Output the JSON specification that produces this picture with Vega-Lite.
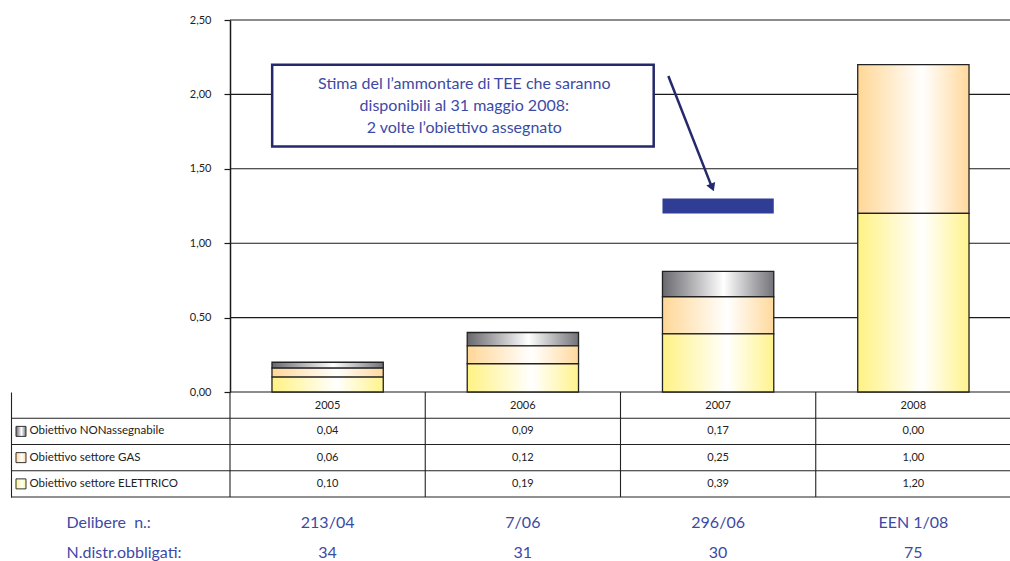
{
  "$schema": "https://vega.github.io/schema/vega-lite/v6.json",
  "background": "white",
  "padding": {"left": 10, "top": 14, "right": 0, "bottom": 0},
  "spacing": 0,
  "bounds": "flush",
  "config": {
    "font": "Lato",
    "view": {"stroke": null},
    "locale": {"number": {"decimal": ",", "thousands": ".", "grouping": [3], "currency": ["", " €"]}}
  },
  "datasets": {
    "obiettivi": [
      {"anno": "2005", "key": "NON", "serie": "Obiettivo NONassegnabile", "valore": 0.04},
      {"anno": "2005", "key": "GAS", "serie": "Obiettivo settore GAS", "valore": 0.06},
      {"anno": "2005", "key": "ELE", "serie": "Obiettivo settore ELETTRICO", "valore": 0.10},
      {"anno": "2006", "key": "NON", "serie": "Obiettivo NONassegnabile", "valore": 0.09},
      {"anno": "2006", "key": "GAS", "serie": "Obiettivo settore GAS", "valore": 0.12},
      {"anno": "2006", "key": "ELE", "serie": "Obiettivo settore ELETTRICO", "valore": 0.19},
      {"anno": "2007", "key": "NON", "serie": "Obiettivo NONassegnabile", "valore": 0.17},
      {"anno": "2007", "key": "GAS", "serie": "Obiettivo settore GAS", "valore": 0.25},
      {"anno": "2007", "key": "ELE", "serie": "Obiettivo settore ELETTRICO", "valore": 0.39},
      {"anno": "2008", "key": "NON", "serie": "Obiettivo NONassegnabile", "valore": 0.00},
      {"anno": "2008", "key": "GAS", "serie": "Obiettivo settore GAS", "valore": 1.00},
      {"anno": "2008", "key": "ELE", "serie": "Obiettivo settore ELETTRICO", "valore": 1.20}
    ],
    "righe": [
      {"key": "NON", "serie": "Obiettivo NONassegnabile"},
      {"key": "GAS", "serie": "Obiettivo settore GAS"},
      {"key": "ELE", "serie": "Obiettivo settore ELETTRICO"}
    ],
    "anni": [{"anno": "2005"}, {"anno": "2006"}, {"anno": "2007"}, {"anno": "2008"}],
    "griglia": [{"v": 0}, {"v": 0.5}, {"v": 1}, {"v": 1.5}, {"v": 2}, {"v": 2.5}],
    "stima": [{"anno": "2007", "da": 1.2, "a": 1.3}],
    "delibere": [
      {"anno": "2005", "riga": "Delibere\u00a0 n.:", "testo": "213/04"},
      {"anno": "2006", "riga": "Delibere\u00a0 n.:", "testo": "7/06"},
      {"anno": "2007", "riga": "Delibere\u00a0 n.:", "testo": "296/06"},
      {"anno": "2008", "riga": "Delibere\u00a0 n.:", "testo": "EEN 1/08"},
      {"anno": "2005", "riga": "N.distr.obbligati:", "testo": "34"},
      {"anno": "2006", "riga": "N.distr.obbligati:", "testo": "31"},
      {"anno": "2007", "riga": "N.distr.obbligati:", "testo": "30"},
      {"anno": "2008", "riga": "N.distr.obbligati:", "testo": "75"}
    ]
  },
  "vconcat": [
    {
      "width": 1000,
      "height": 372,
      "layer": [
        {
          "data": {"name": "griglia"},
          "mark": {"type": "rule", "color": "#1a1a1a", "strokeWidth": 1.1},
          "encoding": {
            "y": {
              "field": "v", "type": "quantitative",
              "scale": {"domain": [0, 2.5], "nice": false, "zero": true},
              "axis": {
                "offset": -219, "values": [0, 0.5, 1, 1.5, 2, 2.5], "format": ".2f", "grid": false,
                "title": null, "domainColor": "#1a1a1a", "domainWidth": 1.5, "tickColor": "#1a1a1a",
                "tickSize": 6, "tickWidth": 1.2, "labelPadding": 13, "labelFontSize": 11, "labelColor": "#222"
              }
            },
            "x": {"datum": "2005", "type": "nominal", "bandPosition": 0,
                  "scale": {"type": "band", "domain": ["2005", "2006", "2007", "2008"], "paddingInner": 0, "paddingOuter": 0.5608, "align": 1},
                  "axis": null},
            "x2": {"value": "width"}
          }
        },
        {
          "data": {"name": "obiettivi"},
          "mark": {"type": "bar", "stroke": "#222", "strokeWidth": 1.3, "width": {"band": 0.57}},
          "encoding": {
            "x": {"field": "anno", "type": "nominal"},
            "y": {"field": "valore", "type": "quantitative", "stack": "zero"},
            "detail": {"field": "key"},
            "order": {"field": "key", "sort": "ascending"},
            "fill": {
              "condition": [
                {"test": "datum.key === 'ELE'", "value": {"gradient": "linear", "x1": 0, "y1": 0, "x2": 1, "y2": 0, "stops": [{"offset": 0, "color": "#fff283"}, {"offset": 0.58, "color": "#ffffff"}, {"offset": 1, "color": "#fff38c"}]}},
                {"test": "datum.key === 'GAS'", "value": {"gradient": "linear", "x1": 0, "y1": 0, "x2": 1, "y2": 0, "stops": [{"offset": 0, "color": "#ffd796"}, {"offset": 0.58, "color": "#ffffff"}, {"offset": 1, "color": "#ffd99c"}]}}
              ],
              "value": {"gradient": "linear", "x1": 0, "y1": 0, "x2": 1, "y2": 0, "stops": [{"offset": 0, "color": "#68686e"}, {"offset": 0.55, "color": "#ffffff"}, {"offset": 1, "color": "#727278"}]}
            }
          }
        },
        {
          "data": {"name": "stima"},
          "mark": {"type": "bar", "color": "#2f3d95", "width": {"band": 0.57}},
          "encoding": {
            "x": {"field": "anno", "type": "nominal"},
            "y": {"field": "da", "type": "quantitative"},
            "y2": {"field": "a"}
          }
        },
        {
          "data": {"values": [{}]},
          "mark": {"type": "rect", "fill": "white", "stroke": "#25286a", "strokeWidth": 2.5},
          "encoding": {
            "x": {"datum": "2005", "type": "nominal", "bandPosition": 0.216},
            "x2": {"datum": "2007", "bandPosition": 0.17},
            "y": {"datum": 2.2, "type": "quantitative"},
            "y2": {"datum": 1.65}
          }
        },
        {
          "data": {"values": [{}]},
          "mark": {"type": "text", "color": "#3d4aa5", "fontSize": 16, "lineHeight": 22, "align": "center", "baseline": "middle"},
          "encoding": {
            "x": {"datum": "2006", "type": "nominal", "bandPosition": 0.2},
            "y": {"datum": 2.068, "type": "quantitative"},
            "text": {"value": ["Stima del l’ammontare di TEE che saranno", "disponibili al 31 maggio 2008:", "2 volte l’obiettivo assegnato"]}
          }
        },
        {
          "data": {"values": [{}]},
          "mark": {"type": "rule", "color": "#25286a", "strokeWidth": 2.5},
          "encoding": {
            "x": {"datum": "2007", "type": "nominal", "bandPosition": 0.245},
            "x2": {"datum": "2007", "bandPosition": 0.47},
            "y": {"datum": 2.124, "type": "quantitative"},
            "y2": {"datum": 1.37}
          }
        },
        {
          "data": {"values": [{}]},
          "mark": {"type": "point", "shape": "triangle-down", "filled": true, "color": "#25286a", "opacity": 1, "size": 90, "angle": -22},
          "encoding": {
            "x": {"datum": "2007", "type": "nominal", "bandPosition": 0.47},
            "y": {"datum": 1.374, "type": "quantitative"}
          }
        }
      ]
    },
    {
      "width": 1000,
      "height": 105,
      "layer": [
        {
          "data": {"name": "righe"},
          "mark": {"type": "rule", "color": "#222", "strokeWidth": 1.1},
          "encoding": {
            "y": {
              "field": "serie", "type": "nominal", "bandPosition": 0,
              "scale": {"type": "band", "domain": ["anno", "Obiettivo NONassegnabile", "Obiettivo settore GAS", "Obiettivo settore ELETTRICO"], "paddingInner": 0, "paddingOuter": 0},
              "axis": {
                "title": null, "orient": "left", "ticks": false, "tickSize": 0, "domain": true, "domainColor": "#222", "domainWidth": 1.1,
                "labelAlign": "left", "labelPadding": -18, "labelFontSize": 11.5, "labelColor": "#222", "grid": false,
                "labelExpr": "datum.value === 'anno' ? '' : datum.value"
              }
            }
          }
        },
        {
          "data": {"values": [{}]},
          "mark": {"type": "rule", "color": "#222", "strokeWidth": 1.1},
          "encoding": {
            "y": {"datum": "Obiettivo settore ELETTRICO", "type": "nominal", "bandPosition": 1}
          }
        },
        {
          "data": {"name": "anni"},
          "mark": {"type": "rule", "color": "#222", "strokeWidth": 1.1},
          "encoding": {
            "x": {"field": "anno", "type": "nominal", "bandPosition": 0,
                  "scale": {"type": "band", "domain": ["2005", "2006", "2007", "2008"], "paddingInner": 0, "paddingOuter": 0.5608, "align": 1},
                  "axis": null}
          }
        },
        {
          "data": {"name": "anni"},
          "mark": {"type": "text", "fontSize": 11, "color": "#222", "dy": 1},
          "encoding": {
            "x": {"field": "anno", "type": "nominal"},
            "y": {"datum": "anno", "type": "nominal"},
            "text": {"field": "anno"}
          }
        },
        {
          "data": {"name": "obiettivi"},
          "mark": {"type": "text", "fontSize": 11, "color": "#222"},
          "encoding": {
            "x": {"field": "anno", "type": "nominal"},
            "y": {"field": "serie", "type": "nominal"},
            "text": {"field": "valore", "type": "quantitative", "format": ".2f"}
          }
        },
        {
          "data": {"name": "righe"},
          "mark": {"type": "square", "size": 100, "stroke": "#333", "strokeWidth": 1, "opacity": 1, "xOffset": -209},
          "encoding": {
            "x": {"datum": "2005", "type": "nominal", "bandPosition": 0},
            "y": {"field": "serie", "type": "nominal"},
            "fill": {
              "condition": [
                {"test": "datum.key === 'ELE'", "value": {"gradient": "linear", "x1": 0, "y1": 0, "x2": 1, "y2": 0, "stops": [{"offset": 0, "color": "#fff283"}, {"offset": 0.58, "color": "#ffffff"}, {"offset": 1, "color": "#fff38c"}]}},
                {"test": "datum.key === 'GAS'", "value": {"gradient": "linear", "x1": 0, "y1": 0, "x2": 1, "y2": 0, "stops": [{"offset": 0, "color": "#ffd796"}, {"offset": 0.58, "color": "#ffffff"}, {"offset": 1, "color": "#ffd99c"}]}}
              ],
              "value": {"gradient": "linear", "x1": 0, "y1": 0, "x2": 1, "y2": 0, "stops": [{"offset": 0, "color": "#68686e"}, {"offset": 0.55, "color": "#ffffff"}, {"offset": 1, "color": "#727278"}]}
            }
          }
        }
      ]
    },
    {
      "width": 1000,
      "height": 64,
      "data": {"name": "delibere"},
      "mark": {"type": "text", "fontSize": 16, "color": "#3d4aa5", "dy": 9},
      "encoding": {
        "x": {"field": "anno", "type": "nominal",
              "scale": {"type": "band", "domain": ["2005", "2006", "2007", "2008"], "paddingInner": 0, "paddingOuter": 0.5608, "align": 1},
              "axis": null},
        "y": {"field": "riga", "type": "nominal",
              "scale": {"type": "band", "domain": ["Delibere\u00a0 n.:", "N.distr.obbligati:"], "paddingInner": 0, "paddingOuter": 0.1034},
              "axis": {"title": null, "ticks": false, "tickSize": 0, "domain": false, "grid": false, "labelAlign": "left", "labelPadding": -55,
                       "labelOffset": 9, "labelFontSize": 16, "labelColor": "#3d4aa5"}},
        "text": {"field": "testo"}
      }
    }
  ]
}
